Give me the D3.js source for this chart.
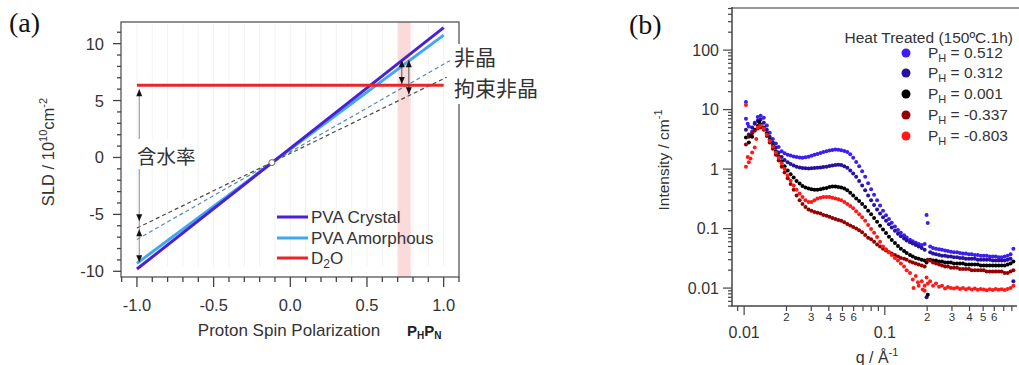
<!DOCTYPE html>
<html><head><meta charset="utf-8">
<script src="https://cdn.jsdelivr.net/npm/d3@7"></script>
<style>
body{margin:0;background:#fff}
svg{display:block}
</style>
</head><body><svg id="c" width="1019" height="365"></svg>
<script>
// ================= Panel (a) data =================
const polX = [-1, 1];
const crystalSLD = [-9.8, 11.4];
const amorphousSLD = [-9.3, 10.75];
const d2oSLD = [6.35, 6.35];
const amorphDashX = [-1, 1.04];
const amorphDashSLD = [-7.2, 8.5];
const boundDashX = [-1, 1.02];
const boundDashSLD = [-6.2, 7.05];
const crossPoint = [-0.12, -0.45];
const bandRange = [0.70, 0.785];
const aXTicks = [-1, -0.5, 0, 0.5, 1];
const aYTicks = [-10, -5, 0, 5, 10];
const legendA = ["PVA Crystal", "PVA Amorphous", "D2O"];
const waterArrowX = -0.985;
const waterArrowRange = [-9.25, 6.0];
const waterHeadsY = [6.0, -5.6, -6.3, -9.2];
const waterHeadsDir = ["up", "down", "up", "down"];
const rightArrowX = [0.727, 0.773];
const rightArrowLow = [6.45, 5.55];
const rightArrowHigh = [8.55, 8.55];

// ================= Panel (b) data =================
const qGrid = [0.0103,0.0108,0.0114,0.0119,0.0125,0.0131,0.0138,0.0145,0.0152,0.016,
0.0168,0.0176,0.0185,0.0194,0.0204,0.0214,0.0225,0.0236,0.0248,0.026,
0.0273,0.0287,0.0301,0.0316,0.0332,0.0349,0.0366,0.0385,0.0404,0.0424,
0.0445,0.0467,0.049,0.0515,0.0541,0.0568,0.0596,0.0626,0.0657,0.069,
0.0725,0.0761,0.0799,0.0839,0.0881,0.0925,0.0971,0.102,0.107,0.112,
0.118,0.124,0.13,0.137,0.143,0.151,0.158,0.166,0.174,0.183,
0.192,0.198,0.202,0.21,0.22,0.231,0.243,0.255,0.268,0.281,
0.295,0.31,0.326,0.342,0.359,0.377,0.396,0.415,0.436,0.458,
0.481,0.505,0.53,0.557,0.585,0.614,0.645,0.677,0.711,0.746,
0.783,0.82];
const I_p512 = [7.0,5.2,4.3,6.0,7.5,7.9,7.3,5.4,4.1,3.2,
2.7,2.35,2.0,1.85,1.75,1.7,1.63,1.6,1.56,1.55,
1.58,1.62,1.68,1.74,1.8,1.86,1.93,2.0,2.05,2.1,
2.13,2.12,2.08,2.02,1.94,1.78,1.55,1.32,1.12,0.92,
0.74,0.58,0.46,0.37,0.3,0.245,0.2,0.168,0.145,0.125,
0.108,0.095,0.085,0.077,0.071,0.065,0.061,0.058,0.055,0.053,
0.055,0.17,0.124,0.05,0.047,0.046,0.045,0.044,0.043,0.042,
0.041,0.04,0.04,0.039,0.038,0.038,0.037,0.037,0.036,0.036,
0.035,0.035,0.035,0.034,0.034,0.034,0.033,0.033,0.034,0.035,
0.037,0.046];
const I_p312 = [4.6,3.8,5.0,5.8,6.5,6.8,6.0,4.6,3.5,2.8,
2.3,1.9,1.6,1.42,1.3,1.22,1.15,1.1,1.06,1.04,
1.03,1.02,1.03,1.04,1.05,1.06,1.08,1.1,1.13,1.15,
1.17,1.18,1.17,1.12,1.05,0.95,0.84,0.74,0.63,0.53,
0.44,0.36,0.3,0.25,0.21,0.18,0.155,0.135,0.118,0.104,
0.092,0.082,0.074,0.068,0.063,0.059,0.056,0.053,0.05,0.047,
0.044,0.007,null,0.04,0.038,0.037,0.036,0.035,0.035,0.034,
0.034,0.033,0.033,0.032,0.032,0.031,0.031,0.031,0.031,0.030,
0.030,0.030,0.030,0.030,0.029,0.029,0.029,0.029,0.029,0.030,
0.031,0.013];
const I_p001 = [3.4,2.8,3.5,4.6,5.3,5.6,5.0,4.0,3.1,2.5,
2.0,1.65,1.35,1.12,0.95,0.82,0.72,0.63,0.57,0.52,
0.49,0.47,0.46,0.45,0.45,0.46,0.47,0.48,0.5,0.51,
0.51,0.5,0.49,0.47,0.44,0.4,0.36,0.32,0.29,0.26,
0.23,0.2,0.175,0.15,0.13,0.112,0.097,0.084,0.073,0.064,
0.057,0.051,0.046,0.042,0.039,0.036,0.034,0.032,0.031,0.03,
0.029,0.027,0.0077,0.03,0.029,0.029,0.028,0.028,0.027,0.027,
0.027,0.026,0.026,0.026,0.026,0.025,0.025,0.025,0.025,0.025,
0.024,0.024,0.024,0.024,0.024,0.024,0.024,0.024,0.024,0.025,
0.026,0.028];
const I_m337 = [2.6,3.5,4.0,4.4,4.8,5.0,4.6,3.6,2.8,2.2,
1.75,1.4,1.1,0.88,0.7,0.56,0.45,0.36,0.3,0.26,
0.23,0.21,0.2,0.19,0.185,0.18,0.17,0.165,0.158,0.15,
0.145,0.14,0.135,0.128,0.12,0.113,0.106,0.1,0.094,0.087,
0.078,0.07,0.066,0.06,0.054,0.05,0.046,0.043,0.04,0.038,
0.036,0.034,0.032,0.031,0.03,0.028,0.027,0.026,0.025,0.024,
0.023,null,0.03,0.029,0.027,0.026,0.025,0.024,0.023,0.023,
0.022,0.022,0.022,0.021,0.021,0.021,0.021,0.02,0.02,0.02,
0.02,0.02,0.019,0.019,0.019,0.019,0.019,0.019,0.018,0.018,
0.019,0.02];
const I_m803 = [1.1,1.3,1.9,2.3,5.0,5.4,4.8,3.8,3.0,2.4,
1.9,1.55,1.25,1.0,0.78,0.64,0.53,0.45,0.39,0.34,
0.3,0.28,0.28,0.3,0.32,0.33,0.34,0.34,0.34,0.33,
0.32,0.31,0.3,0.28,0.26,0.24,0.22,0.195,0.175,0.155,
0.135,0.115,0.098,0.085,0.072,0.06,0.05,0.045,0.04,0.036,
0.032,0.029,0.026,0.023,0.02,0.018,0.014,0.016,0.011,0.013,
0.009,0.015,0.012,0.013,0.011,0.012,0.0105,0.011,0.0098,0.0104,
0.01,0.0098,0.0102,0.0097,0.01,0.0096,0.0099,0.0095,0.0098,0.0094,
0.0097,0.0095,0.0092,0.0096,0.0093,0.0097,0.0094,0.0096,0.0093,0.0097,
0.01,0.011];
// scattered extra points (series index: 0=0.512 .. 4=-0.803)
const extraQ = [0.0103,0.0103,0.0106,0.0111,0.0106,0.0112,0.0122,0.0128,0.16,0.172,0.186,0.192];
const extraI = [13.4,12.0,1.6,1.5,5.8,3.6,3.2,6.2,0.01,0.0125,0.0095,0.011];
const extraS = [0,4,4,4,0,2,4,2,4,4,4,4];

const seriesLabels = ["0.512", "0.312", "0.001", "-0.337", "-0.803"];
const seriesColors = ["#3c1ef2", "#25129e", "#000000", "#960000", "#ff1a1a"];
const seriesValues = [I_p512, I_p312, I_p001, I_m337, I_m803];

const bYDecades = [0.01, 0.1, 1, 10, 100];

// ================= Drawing =================
const svg = d3.select("#c");
const FONT = "'Liberation Sans', Arial, Helvetica, sans-serif";
const CJK = "'Noto Sans CJK JP', 'Noto Sans CJK SC', sans-serif";
const SERIF = "'Liberation Serif', 'DejaVu Serif', serif";

// ---------- Panel (a) ----------
const xA = d3.scaleLinear().domain([-1.104, 1.1]).range([121, 459]);
const yA = d3.scaleLinear().domain([-10.5, 11.9]).range([277, 22]);
const gA = svg.append("g");

gA.append("rect").attr("x", xA(bandRange[0])).attr("y", yA(11.9))
  .attr("width", xA(bandRange[1]) - xA(bandRange[0])).attr("height", yA(-10.5) - yA(11.9))
  .attr("fill", "#fadada");

gA.selectAll("line.vg").data(xA.ticks(22).filter(v => v >= -1.0001 && v <= 1.0001)).join("line")
  .attr("class", "vg")
  .attr("x1", d => xA(d)).attr("x2", d => xA(d)).attr("y1", yA(11.7)).attr("y2", yA(-9.6))
  .attr("stroke", "#f2f2f2").attr("stroke-width", 1);

const lineA = d3.line().x(d => xA(d[0])).y(d => yA(d[1]));
const pair = (xs, ys) => xs.map((x, i) => [x, ys[i]]);

gA.append("path").attr("d", lineA(pair(amorphDashX, amorphDashSLD)))
  .attr("fill", "none").attr("stroke", "#5d86ad").attr("stroke-width", 1.2).attr("stroke-dasharray", "4,3");
gA.append("path").attr("d", lineA(pair(boundDashX, boundDashSLD)))
  .attr("fill", "none").attr("stroke", "#4a4a4a").attr("stroke-width", 1.2).attr("stroke-dasharray", "4,3");
gA.append("path").attr("d", lineA(pair(polX, amorphousSLD)))
  .attr("fill", "none").attr("stroke", "#3fa8ee").attr("stroke-width", 3);
gA.append("path").attr("d", lineA(pair(polX, crystalSLD)))
  .attr("fill", "none").attr("stroke", "#4a1fd6").attr("stroke-width", 3);
gA.append("path").attr("d", lineA(pair(polX, d2oSLD)))
  .attr("fill", "none").attr("stroke", "#e8262a").attr("stroke-width", 3);

gA.append("circle").attr("cx", xA(crossPoint[0])).attr("cy", yA(crossPoint[1])).attr("r", 3)
  .attr("fill", "#fff").attr("stroke", "#666").attr("stroke-width", 1);

function head(g, x, y, dir, col) {
  const s = dir === "up" ? 1 : -1;
  g.append("path").attr("d", `M${x},${y} L${x - 3},${y + 7 * s} L${x + 3},${y + 7 * s} Z`).attr("fill", col);
}
// water content arrow
gA.append("line").attr("x1", xA(waterArrowX)).attr("x2", xA(waterArrowX))
  .attr("y1", yA(waterArrowRange[0])).attr("y2", yA(waterArrowRange[1]))
  .attr("stroke", "#8a8a8a").attr("stroke-width", 1);
waterHeadsY.forEach((v, i) => head(gA, xA(waterArrowX), yA(v), waterHeadsDir[i], "#111"));
gA.append("rect").attr("x", 135).attr("y", 139).attr("width", 62).attr("height", 30).attr("fill", "#fff");
gA.append("text").attr("x", 137).attr("y", 155).attr("dominant-baseline", "central")
  .style("font-family", CJK).style("font-size", "19.5px").attr("fill", "#333").text("含水率");

rightArrowX.forEach((x, i) => {
  gA.append("line").attr("x1", xA(x)).attr("x2", xA(x)).attr("y1", yA(rightArrowLow[i])).attr("y2", yA(rightArrowHigh[i]))
    .attr("stroke", "#555").attr("stroke-width", 1);
  head(gA, xA(x), yA(rightArrowHigh[i]), "up", "#111");
  head(gA, xA(x), yA(rightArrowLow[i]), "down", "#111");
});

// frame
gA.append("rect").attr("x", 121).attr("y", 22).attr("width", 338).attr("height", 255)
  .attr("fill", "none").attr("stroke", "#555").attr("stroke-width", 1.3);
gA.append("rect").attr("x", 451).attr("y", 44).attr("width", 95).attr("height", 60).attr("fill", "#fff");
gA.append("text").attr("x", 454).attr("y", 56).attr("dominant-baseline", "central")
  .style("font-family", CJK).style("font-size", "21px").attr("fill", "#333").text("非晶");
gA.append("text").attr("x", 454).attr("y", 87).attr("dominant-baseline", "central")
  .style("font-family", CJK).style("font-size", "21px").attr("fill", "#333").text("拘束非晶");

// y ticks
gA.selectAll("line.yt").data(yA.ticks(22)).join("line").attr("class", "yt")
  .attr("x1", 121).attr("x2", d => 121 - (d % 5 === 0 ? 8 : 4))
  .attr("y1", d => yA(d)).attr("y2", d => yA(d)).attr("stroke", "#444").attr("stroke-width", 1.3);
gA.selectAll("text.yl").data(aYTicks).join("text").attr("class", "yl")
  .attr("x", 104).attr("y", d => yA(d)).attr("text-anchor", "end").attr("dominant-baseline", "central")
  .style("font-family", FONT).style("font-size", "16.5px").attr("fill", "#333").text(d => String(d));
// x ticks
const isHalf = d => Math.abs(d * 2 - Math.round(d * 2)) < 1e-6;
gA.selectAll("line.xt").data(xA.ticks(22)).join("line").attr("class", "xt")
  .attr("x1", d => xA(d)).attr("x2", d => xA(d))
  .attr("y1", 277).attr("y2", d => 277 + (isHalf(d) ? 10 : 5)).attr("stroke", "#444").attr("stroke-width", 1.3);
gA.selectAll("text.xl").data(aXTicks).join("text").attr("class", "xl")
  .attr("x", d => xA(d)).attr("y", 305).attr("text-anchor", "middle").attr("dominant-baseline", "central")
  .style("font-family", FONT).style("font-size", "16.5px").attr("fill", "#333").text(d => d.toFixed(1));

// axis titles
gA.append("text").attr("x", 289).attr("y", 330).attr("text-anchor", "middle").attr("dominant-baseline", "central")
  .style("font-family", FONT).style("font-size", "17px").attr("fill", "#333").text("Proton Spin Polarization");
const pp = gA.append("text").attr("x", 407).attr("y", 336)
  .style("font-family", FONT).style("font-size", "15px").style("font-weight", "bold").attr("fill", "#222");
pp.append("tspan").text("P");
pp.append("tspan").attr("dy", 3).style("font-size", "10px").text("H");
pp.append("tspan").attr("dy", -3).text("P");
pp.append("tspan").attr("dy", 3).style("font-size", "10px").text("N");

const yt = gA.append("text").attr("transform", "translate(54,152) rotate(-90)").attr("text-anchor", "middle")
  .style("font-family", FONT).style("font-size", "16.5px").attr("fill", "#333");
yt.append("tspan").text("SLD / 10");
yt.append("tspan").attr("dy", -7).style("font-size", "11px").text("10");
yt.append("tspan").attr("dy", 7).text("cm");
yt.append("tspan").attr("dy", -7).style("font-size", "11px").text("-2");

// legend (a)
const legColsA = ["#4a1fd6", "#3fa8ee", "#e8262a"];
const legYA = [217, 238, 258];
legendA.forEach((name, i) => {
  gA.append("line").attr("x1", 277).attr("x2", 308).attr("y1", legYA[i]).attr("y2", legYA[i])
    .attr("stroke", legColsA[i]).attr("stroke-width", 3);
  const t = gA.append("text").attr("x", 311).attr("y", legYA[i] + 6)
    .style("font-family", FONT).style("font-size", "17px").attr("fill", "#333");
  if (name === "D2O") {
    t.append("tspan").text("D");
    t.append("tspan").attr("dy", 4).style("font-size", "12px").text("2");
    t.append("tspan").attr("dy", -4).text("O");
  } else t.text(name);
});

svg.append("text").attr("x", 9).attr("y", 32).style("font-family", SERIF).style("font-size", "28px")
  .attr("fill", "#111").text("(a)");
svg.append("text").attr("x", 629).attr("y", 34).style("font-family", SERIF).style("font-size", "28px")
  .attr("fill", "#111").text("(b)");

// ---------- Panel (b) ----------
const xB = d3.scaleLog().domain([0.0082, 0.87]).range([732, 1017]);
const yB = d3.scaleLog().domain([0.005, 510]).range([306, 8]);
const gB = svg.append("g");
const isDecade = d => Math.abs(Math.log10(d) - Math.round(Math.log10(d))) < 1e-6;

// frame lines
gB.append("line").attr("x1", 732).attr("x2", 1019).attr("y1", 8).attr("y2", 8).attr("stroke", "#999").attr("stroke-width", 2);
gB.append("line").attr("x1", 732).attr("x2", 732).attr("y1", 7).attr("y2", 306).attr("stroke", "#444").attr("stroke-width", 1.5);
gB.append("line").attr("x1", 731).attr("x2", 1017).attr("y1", 306).attr("y2", 306).attr("stroke", "#444").attr("stroke-width", 1.5);

// y ticks
gB.selectAll("line.yt").data(yB.ticks()).join("line").attr("class", "yt")
  .attr("x1", 732).attr("x2", d => 732 - (isDecade(d) ? 9 : 4))
  .attr("y1", d => yB(d)).attr("y2", d => yB(d)).attr("stroke", "#444").attr("stroke-width", 1.2);
gB.selectAll("text.yl").data(bYDecades).join("text").attr("class", "yl")
  .attr("x", 719).attr("y", d => yB(d)).attr("text-anchor", "end").attr("dominant-baseline", "central")
  .style("font-family", FONT).style("font-size", "16px").attr("fill", "#333").text(d => String(d));
// x ticks
const xTicksB = xB.ticks();
gB.selectAll("line.xt").data(xTicksB).join("line").attr("class", "xt")
  .attr("x1", d => xB(d)).attr("x2", d => xB(d))
  .attr("y1", 306).attr("y2", d => 306 + (isDecade(d) ? 9 : 5)).attr("stroke", "#444").attr("stroke-width", 1.2);
gB.selectAll("text.xd").data(xTicksB.filter(isDecade)).join("text").attr("class", "xd")
  .attr("x", d => xB(d)).attr("y", 332).attr("text-anchor", "middle").attr("dominant-baseline", "central")
  .style("font-family", FONT).style("font-size", "16px").attr("fill", "#333").text(d => String(d));
const mant = d => Math.round(d / Math.pow(10, Math.floor(Math.log10(d) + 1e-9)));
gB.selectAll("text.xm").data(xTicksB.filter(d => !isDecade(d) && mant(d) >= 2 && mant(d) <= 6)).join("text").attr("class", "xm")
  .attr("x", d => xB(d)).attr("y", 317).attr("text-anchor", "middle").attr("dominant-baseline", "central")
  .style("font-family", FONT).style("font-size", "11.5px").attr("fill", "#333").text(d => String(mant(d)));

// titles
const ytB = gB.append("text").attr("transform", "translate(669,160) rotate(-90)").attr("text-anchor", "middle")
  .style("font-family", FONT).style("font-size", "15.5px").attr("fill", "#333");
ytB.append("tspan").text("Intensity / cm");
ytB.append("tspan").attr("dy", -7).style("font-size", "11px").text("-1");
const xtB = gB.append("text").attr("x", 877).attr("y", 363).attr("text-anchor", "middle")
  .style("font-family", FONT).style("font-size", "16px").attr("fill", "#333");
xtB.append("tspan").text("q / Å");
xtB.append("tspan").attr("dy", -7).style("font-size", "11px").text("-1");

// data points
seriesValues.forEach((vals, si) => {
  const pts = qGrid.map((q, i) => ({ q, v: vals[i] })).filter(d => d.v != null);
  gB.append("g").selectAll("circle").data(pts).join("circle")
    .attr("cx", d => xB(d.q)).attr("cy", d => yB(d.v)).attr("r", 2)
    .attr("fill", seriesColors[si]);
});
gB.append("g").selectAll("circle").data(extraQ.map((q, i) => ({ q, v: extraI[i], s: extraS[i] }))).join("circle")
  .attr("cx", d => xB(d.q)).attr("cy", d => yB(d.v)).attr("r", 2).attr("fill", d => seriesColors[d.s]);

// legend (b)
gB.append("text").attr("x", 1013).attr("y", 37).attr("text-anchor", "end").attr("dominant-baseline", "central")
  .style("font-family", FONT).style("font-size", "15.5px").attr("fill", "#333").text("Heat Treated (150ºC.1h)");
const legYB = [53, 73, 94, 115, 136];
seriesLabels.forEach((lab, i) => {
  gB.append("circle").attr("cx", 906).attr("cy", legYB[i]).attr("r", 4.5).attr("fill", seriesColors[i]);
  const t = gB.append("text").attr("x", 928).attr("y", legYB[i] + 5)
    .style("font-family", FONT).style("font-size", "15.5px").attr("fill", "#333");
  t.append("tspan").text("P");
  t.append("tspan").attr("dy", 4).style("font-size", "11px").text("H");
  t.append("tspan").attr("dy", -4).text(" = " + lab);
});
</script>
</body></html>
